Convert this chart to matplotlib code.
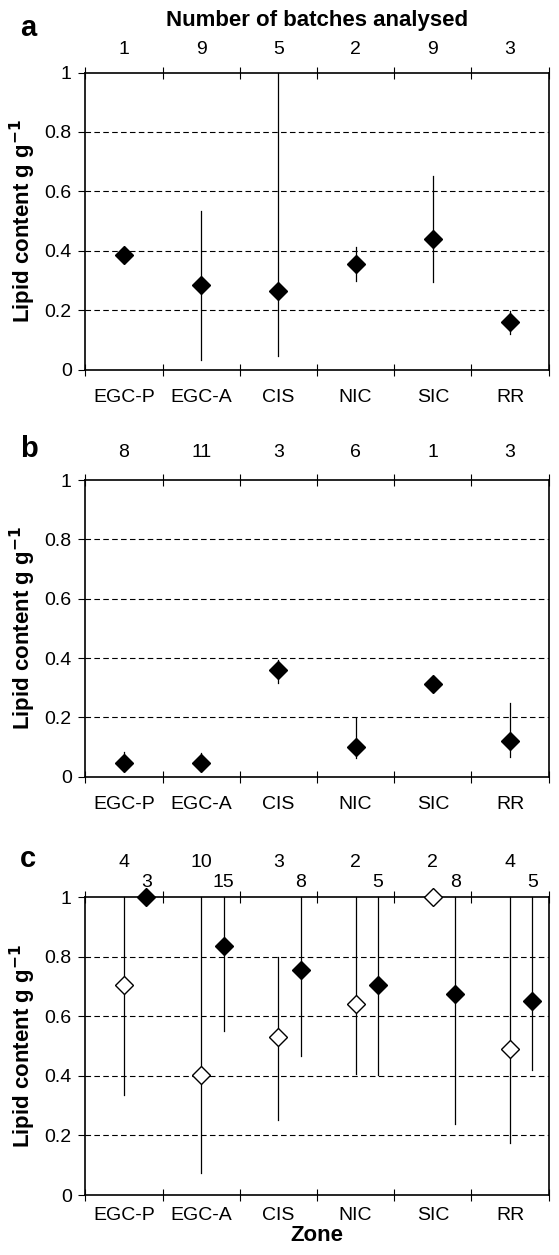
import numpy as np
import matplotlib
matplotlib.use("Agg")
import matplotlib.pyplot as plt

plt.rcParams['font.family'] = ['Liberation Sans', 'DejaVu Sans']

zones = ['EGC-P', 'EGC-A', 'CIS', 'NIC', 'SIC', 'RR']

# panel a
a_n = [1, 9, 5, 2, 9, 3]
a_mean = [0.387, 0.286, 0.264, 0.354, 0.439, 0.162]
a_hi = [None, 0.535, 1.0, 0.412, 0.653, 0.199]
a_lo = [None, 0.031, 0.046, 0.300, 0.295, 0.121]

# panel b
b_n = [8, 11, 3, 6, 1, 3]
b_mean = [0.047, 0.047, 0.360, 0.101, 0.311, 0.121]
b_hi = [0.084, 0.079, 0.393, 0.197, None, 0.247]
b_lo = [0.020, 0.020, 0.315, 0.062, None, 0.067]

# panel c, open diamonds
c_open_n = [4, 10, 3, 2, 2, 4]
c_open_mean = [0.704, 0.402, 0.531, 0.640, 1.0, 0.492]
c_open_hi = [1.0, 1.0, 0.799, 1.0, None, 1.0]
c_open_lo = [0.335, 0.073, 0.251, 0.408, None, 0.173]

# panel c, filled diamonds
c_fill_n = [3, 15, 8, 5, 8, 5]
c_fill_mean = [1.0, 0.835, 0.756, 0.704, 0.676, 0.650]
c_fill_hi = [None, 1.0, 1.0, 1.0, 1.0, 1.0]
c_fill_lo = [None, 0.551, 0.467, 0.402, 0.240, 0.419]

FS = 14
x = np.arange(len(zones))
off = 0.29


def errbars(ax, xs, lo, hi):
    for xi, l, h in zip(xs, lo, hi):
        if l is None:
            continue
        ax.plot([xi, xi], [l, h], color='black', lw=0.9, zorder=2, clip_on=False)


def points(ax, xs, ys, filled=True):
    ax.plot(xs, ys, linestyle='none', marker='D', markersize=9.5,
            markerfacecolor='black' if filled else 'white',
            markeredgecolor='black', markeredgewidth=1.0, zorder=4, clip_on=False)


def style(ax, pad):
    ax.set_xlim(-0.5, 5.5)
    ax.set_ylim(0, 1)
    ax.set_xticks(np.arange(-0.5, 6, 1))
    ax.set_xticklabels([])
    ax.set_xticks(x, minor=True)
    ax.set_xticklabels(zones, minor=True, fontsize=FS)
    ax.tick_params(axis='x', which='minor', length=0, pad=pad)
    ax.tick_params(axis='x', which='major', direction='inout', length=9,
                   width=0.8, top=True)
    ax.set_yticks([0, 0.2, 0.4, 0.6, 0.8, 1])
    ax.set_yticklabels(['0', '0.2', '0.4', '0.6', '0.8', '1'], fontsize=FS)
    ax.tick_params(axis='y', direction='out', length=4.7, width=0.8, pad=5)
    for y in [0.2, 0.4, 0.6, 0.8]:
        ax.axhline(y, color='black', lw=0.8, ls=(0, (5, 3)), zorder=1)
    for s in ax.spines.values():
        s.set_linewidth(1.2)
    ax.set_ylabel('Lipid content g g$^{\\mathbf{-1}}$', fontsize=16,
                  fontweight='bold', labelpad=5)


def counts(ax, xs, ns, yoff):
    for xi, n in zip(xs, ns):
        ax.text(xi, yoff, str(n), transform=ax.get_xaxis_transform(),
                ha='center', va='baseline', fontsize=FS)


fig = plt.figure(figsize=(5.59, 12.55), dpi=100)
L = 85.3 / 559
W = 463.4 / 559
axa = fig.add_axes([L, 1 - 369.7 / 1255, W, 297.2 / 1255])
axb = fig.add_axes([L, 1 - 776.7 / 1255, W, 296.7 / 1255])
axc = fig.add_axes([L, 1 - 1195 / 1255, W, 297.7 / 1255])

# a
style(axa, 14)
errbars(axa, x, a_lo, a_hi)
points(axa, x, a_mean)
counts(axa, x, a_n, 1.061)
axa.text(0.5, 1.1566, 'Number of batches analysed', transform=axa.transAxes,
         ha='center', va='baseline', fontsize=16, fontweight='bold')
fig.text(20 / 559, 1 - 36 / 1255, 'a', fontsize=21, fontweight='bold', ha='left', va='baseline')

# b
style(axb, 14)
errbars(axb, x, b_lo, b_hi)
points(axb, x, b_mean)
counts(axb, x, b_n, 1.079)
fig.text(20 / 559, 1 - 457 / 1255, 'b', fontsize=21, fontweight='bold', ha='left', va='baseline')

# c
style(axc, 8.6)
errbars(axc, x, c_open_lo, c_open_hi)
errbars(axc, x + off, c_fill_lo, c_fill_hi)
points(axc, x, c_open_mean, filled=False)
points(axc, x + off, c_fill_mean, filled=True)
counts(axc, x, c_open_n, 1.103)
counts(axc, x + off, c_fill_n, 1.036)
axc.set_xlabel('Zone', fontsize=16, fontweight='bold', labelpad=1)
fig.text(20 / 559, 1 - 867 / 1255, 'c', fontsize=21, fontweight='bold', ha='left', va='baseline')

fig.savefig('out.png', dpi=100)
